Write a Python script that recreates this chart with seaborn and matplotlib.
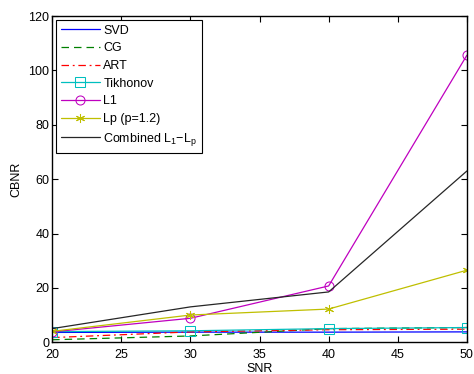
import matplotlib
matplotlib.use("Agg")
import matplotlib.pyplot as plt
import seaborn as sns
import pandas as pd

snr = [20, 30, 40, 50]
svd = [3.6, 3.7, 3.7, 3.8]
cg = [0.9, 2.3, 5.0, 5.4]
art = [1.7, 3.8, 4.6, 4.8]
tikhonov = [3.9, 4.2, 5.0, 5.4]
l1 = [3.8, 8.8, 20.7, 105.6]
lp = [4.0, 10.0, 12.2, 26.5]
combined = [5.0, 13.0, 18.5, 63.0]

labels = ["SVD", "CG", "ART", "Tikhonov", "L1", "Lp (p=1.2)",
          r"Combined L$_\mathregular{1}$$\mathregular{-}$L$_\mathregular{p}$"]
series = [svd, cg, art, tikhonov, l1, lp, combined]

sns.set_style("white")
plt.rcParams["font.family"] = ["Liberation Sans", "DejaVu Sans"]
plt.rcParams.update({"text.color": "black", "axes.labelcolor": "black",
                     "xtick.color": "black", "ytick.color": "black"})

styles = [
    dict(color="#0000ff", linestyle="-", marker=None),
    dict(color="#008000", linestyle=(0, (6, 4)), marker=None),
    dict(color="#ff0000", linestyle=(0, (6, 3, 1.5, 3)), marker=None),
    dict(color="#00bfbf", linestyle="-", marker="s"),
    dict(color="#bf00bf", linestyle="-", marker="o"),
    dict(color="#bfbf00", linestyle="-", marker=(6, 2, 0)),
    dict(color="#262626", linestyle="-", marker=None),
]

fig = plt.figure(figsize=(4.74, 3.74), dpi=100)
ax = fig.add_axes([0.110, 0.085, 0.875, 0.872])

for lab, vals, st in zip(labels, series, styles):
    df = pd.DataFrame({"SNR": snr, "CBNR": vals})
    sns.lineplot(data=df, x="SNR", y="CBNR", ax=ax, label=lab,
                 color=st["color"], linestyle=st["linestyle"],
                 marker=st["marker"], markersize=6.5,
                 markerfacecolor="none" if st["marker"] in ("s", "o") else st["color"],
                 markeredgecolor=st["color"], linewidth=0.9)

ax.set_xlim(20, 50)
ax.set_ylim(0, 120)
ax.set_xticks([20, 25, 30, 35, 40, 45, 50])
ax.set_yticks([0, 20, 40, 60, 80, 100, 120])
ax.set_xlabel("SNR", fontsize=9, labelpad=1)
ax.set_ylabel("CBNR", fontsize=9, labelpad=4)
ax.tick_params(direction="in", length=4, width=0.8, labelsize=9,
               top=True, right=True, bottom=True, left=True)
ax.tick_params(axis="x", pad=5)
ax.tick_params(axis="y", pad=2)
for s in ax.spines.values():
    s.set_visible(True)
    s.set_color("black")
    s.set_linewidth(1.0)

leg = ax.legend(loc="upper left", fontsize=9, handlelength=3.1,
                frameon=True, fancybox=False, borderaxespad=0.3,
                labelspacing=0.45, handletextpad=0.3, borderpad=0.4)
leg.get_frame().set_edgecolor("black")
leg.get_frame().set_linewidth(0.8)
leg.get_frame().set_alpha(1)

fig.savefig("out.png", dpi=100)
